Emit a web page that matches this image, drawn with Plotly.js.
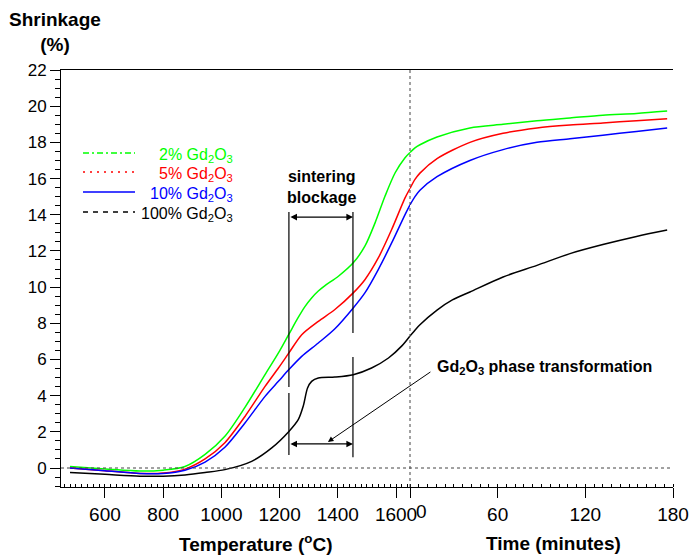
<!DOCTYPE html>
<html>
<head>
<meta charset="utf-8">
<script src="https://cdn.plot.ly/plotly-3.0.1.min.js"></script>
<style>html,body{margin:0;padding:0;background:#fff;}#chart{width:691px;height:555px;}</style>
</head>
<body>
<div id="chart"></div>
<script>
// ---- Data: temperature ramp (°C) ----
const g2_T  = [480, 600, 720, 800, 875, 944, 1012, 1081, 1150, 1196, 1232, 1264, 1287, 1310, 1333, 1356, 1402, 1453, 1493, 1528, 1562, 1597, 1631, 1648];
const g2_S  = [0.08, -0.05, -0.17, -0.12, 0.08, 0.75, 1.75, 3.35, 5.16, 6.36, 7.4, 8.32, 8.92, 9.4, 9.78, 10.08, 10.6, 11.34, 12.26, 13.55, 15.02, 16.32, 17.15, 17.44];
const r5_T  = [480, 600, 720, 800, 875, 944, 1012, 1081, 1150, 1196, 1232, 1276, 1333, 1390, 1453, 1493, 1539, 1585, 1631, 1648];
const r5_S  = [0.0, -0.15, -0.3, -0.28, -0.06, 0.5, 1.4, 2.85, 4.51, 5.53, 6.36, 7.37, 8.11, 8.76, 9.68, 10.41, 11.61, 13.18, 14.93, 15.45];
const b10_T = [480, 600, 720, 800, 875, 944, 1012, 1081, 1150, 1196, 1232, 1276, 1333, 1390, 1453, 1493, 1539, 1585, 1631, 1648];
const b10_S = [0.0, -0.15, -0.3, -0.3, -0.12, 0.33, 1.15, 2.49, 3.96, 4.79, 5.44, 6.17, 6.91, 7.7, 8.85, 9.68, 10.97, 12.44, 14.01, 14.55];
const k100_T = [480, 600, 720, 800, 875, 944, 1012, 1104, 1173, 1232, 1264, 1281, 1296, 1310, 1333, 1390, 1453, 1516, 1574, 1620, 1648];
const k100_S = [-0.25, -0.35, -0.45, -0.45, -0.38, -0.25, -0.09, 0.37, 1.11, 2.02, 2.67, 3.41, 4.42, 4.79, 4.98, 5.03, 5.16, 5.53, 6.08, 6.75, 7.3];

// ---- Data: isothermal hold (minutes) ----
const hold_t = [0, 3.4, 6.8, 18.5, 41, 63.7, 86.9, 109.5, 132, 155, 176];
const g2_H   = [17.44, 17.7, 17.87, 18.3, 18.8, 19.0, 19.2, 19.35, 19.5, 19.6, 19.73];
const r5_H   = [15.45, 15.95, 16.3, 17.1, 18.0, 18.5, 18.8, 18.96, 19.07, 19.2, 19.3];
const b10_H  = [14.55, 15.0, 15.35, 16.1, 17.0, 17.6, 18.0, 18.2, 18.4, 18.6, 18.8];
const k100_t = [0, 3.4, 6.8, 18.5, 29, 41, 63.7, 86.9, 109.5, 132, 155, 176];
const k100_H = [7.3, 7.62, 7.92, 8.73, 9.29, 9.73, 10.56, 11.2, 11.85, 12.35, 12.8, 13.15];

// ---- Labels ----
const tempTicks = [600, 800, 1000, 1200, 1400, 1600];
const timeTicks = [0, 60, 120, 180];
const timeTickText = ['', '60', '120', '180'];
const seriesNames = ['2% Gd<sub>2</sub>O<sub>3</sub>', '5% Gd<sub>2</sub>O<sub>3</sub>', '10% Gd<sub>2</sub>O<sub>3</sub>', '100% Gd<sub>2</sub>O<sub>3</sub>'];
const seriesColors = ['#00ff00', '#ff0000', '#0000ff', '#000000'];
const legendDash = ['6px,3px,2px,3px', '2px,5px', 'solid', '5px,5px'];

const FONT = '"Liberation Sans", Arial, Helvetica, sans-serif';
const dT = 349 / 612;

const tempSets = [[g2_T, g2_S], [r5_T, r5_S], [b10_T, b10_S], [k100_T, k100_S]];
const holdSets = [[hold_t, g2_H], [hold_t, r5_H], [hold_t, b10_H], [k100_t, k100_H]];

const traces = [];
tempSets.forEach((s, i) => traces.push({
  x: s[0], y: s[1], xaxis: 'x', yaxis: 'y', mode: 'lines', name: seriesNames[i],
  line: {color: seriesColors[i], width: 1.5, shape: 'spline', smoothing: 0.8}, hoverinfo: 'skip'
}));
holdSets.forEach((s, i) => traces.push({
  x: s[0], y: s[1], xaxis: 'x2', yaxis: 'y', mode: 'lines', name: seriesNames[i],
  line: {color: seriesColors[i], width: 1.5, shape: 'spline', smoothing: 0.8}, hoverinfo: 'skip'
}));

const shapes = [
  {type: 'line', xref: 'paper', yref: 'y', x0: 0, x1: 1, y0: 0, y1: 0, line: {color: '#444', width: 1, dash: 'dot'}},
  {type: 'line', xref: 'paper', yref: 'paper', x0: dT, x1: dT, y0: 0, y1: 1, line: {color: '#444', width: 1, dash: 'dot'}},
  // sintering blockage markers
  {type: 'line', xref: 'x', yref: 'y', x0: 1232, x1: 1232, y0: 14.15, y1: 4.48, line: {color: 'black', width: 1.2}},
  {type: 'line', xref: 'x', yref: 'y', x0: 1232, x1: 1232, y0: 4.15, y1: 0.72, line: {color: 'black', width: 1.2}},
  {type: 'line', xref: 'x', yref: 'y', x0: 1452, x1: 1452, y0: 14.15, y1: 7.46, line: {color: 'black', width: 1.2}},
  {type: 'line', xref: 'x', yref: 'y', x0: 1452, x1: 1452, y0: 6.14, y1: 0.6, line: {color: 'black', width: 1.2}}
];
const legY = [153, 172, 192, 212].map(p => (487 - p) / 417);
legY.forEach((y, i) => shapes.push({
  type: 'line', xref: 'paper', yref: 'paper', x0: 22 / 612, x1: 74 / 612, y0: y, y1: y,
  line: {color: seriesColors[i], width: 1.3, dash: legendDash[i]}
}));

const annotations = [
  {xref: 'paper', yref: 'paper', x: -6 / 612, y: 1, yshift: 38, xanchor: 'center', yanchor: 'middle', showarrow: false,
   text: '<b>Shrinkage</b><br><b>(%)</b>', font: {family: FONT, size: 19, color: 'black'}},
  {xref: 'paper', yref: 'paper', x: 194 / 612, y: 0, yshift: -56, xanchor: 'center', yanchor: 'middle', showarrow: false,
   text: '<b>Temperature (<sup>o</sup>C)</b>', font: {family: FONT, size: 19, color: 'black'}},
  {xref: 'paper', yref: 'paper', x: 492 / 612, y: 0, yshift: -56, xanchor: 'center', yanchor: 'middle', showarrow: false,
   text: '<b>Time (minutes)</b>', font: {family: FONT, size: 19, color: 'black'}},
  {xref: 'x2', yref: 'paper', x: 0, y: 0, xshift: 11, yshift: -24, xanchor: 'center', yanchor: 'middle', showarrow: false,
   text: '0', font: {family: FONT, size: 19, color: 'black'}},
  {xref: 'paper', yref: 'paper', x: 260 / 612, y: (487 - 186.5) / 417, xanchor: 'center', yanchor: 'middle', showarrow: false,
   text: '<b>sintering</b><br><b>blockage</b>', font: {family: FONT, size: 16, color: 'black'}},
  {xref: 'x', yref: 'y', x: 1452, y: 13.87, axref: 'x', ayref: 'y', ax: 1232, ay: 13.87, text: '', showarrow: true,
   arrowside: 'end+start', arrowhead: 2, arrowsize: 1.1, arrowwidth: 1.2, arrowcolor: 'black', standoff: 0, startstandoff: 0},
  {xref: 'x', yref: 'y', x: 1452, y: 1.33, axref: 'x', ayref: 'y', ax: 1232, ay: 1.33, text: '', showarrow: true,
   arrowside: 'end+start', arrowhead: 2, arrowsize: 1.1, arrowwidth: 1.2, arrowcolor: 'black', standoff: 0, startstandoff: 0},
  {xref: 'x', yref: 'y', x: 1366, y: 1.44, ax: 104, ay: -71, text: '', showarrow: true,
   arrowhead: 2, arrowsize: 1.1, arrowwidth: 1, arrowcolor: 'black', standoff: 0},
  {xref: 'paper', yref: 'paper', x: 374 / 612, y: (487 - 367) / 417, xanchor: 'left', yanchor: 'middle', showarrow: false,
   text: '<b>Gd<sub>2</sub>O<sub>3</sub> phase transformation</b>', font: {family: FONT, size: 16, color: 'black'}}
];
legY.forEach((y, i) => annotations.push({
  xref: 'paper', yref: 'paper', x: 174 / 612, y: y, yshift: -2, xanchor: 'right', yanchor: 'middle', showarrow: false,
  text: seriesNames[i], font: {family: FONT, size: 16, color: seriesColors[i]}
}));

const commonX = {
  anchor: 'y', ticks: 'outside', ticklen: 10, tickwidth: 1, tickcolor: 'black',
  tickfont: {family: FONT, size: 19, color: 'black'}, showline: true, linecolor: 'black', linewidth: 1,
  mirror: true, showgrid: false, zeroline: false,
  minor: {ticks: 'inside', ticklen: 3, tickcolor: 'black', showgrid: false}
};

const layout = {
  width: 691, height: 555,
  margin: {l: 61, r: 18, t: 70, b: 68},
  paper_bgcolor: 'white', plot_bgcolor: 'white',
  showlegend: false,
  font: {family: FONT, color: 'black'},
  xaxis: Object.assign({}, commonX, {domain: [0, dT], range: [449, 1648], tickvals: tempTicks,
    minor: Object.assign({}, commonX.minor, {dtick: 20})}),
  xaxis2: Object.assign({}, commonX, {domain: [dT, 1], range: [0, 180], tickvals: timeTicks, ticktext: timeTickText,
    minor: Object.assign({}, commonX.minor, {dtick: 6})}),
  yaxis: {range: [-1.05, 22], tick0: 0, dtick: 2, ticks: 'outside', ticklen: 10, tickwidth: 1, tickcolor: 'black',
    tickfont: {family: FONT, size: 17, color: 'black'}, showline: true, linecolor: 'black', linewidth: 1,
    showgrid: false, zeroline: false, anchor: 'x',
    minor: {dtick: 0.5, ticks: 'outside', ticklen: 5, tickcolor: 'black', showgrid: false}},
  yaxis2: {range: [-1.05, 22], overlaying: 'y', side: 'right', anchor: 'x2', showticklabels: false,
    ticks: 'outside', ticklen: 3, dtick: 0.5, tickcolor: 'black', showline: true, linecolor: 'black', linewidth: 1,
    showgrid: false, zeroline: false},
  shapes: shapes,
  annotations: annotations
};

Plotly.newPlot('chart', traces, layout, {staticPlot: true, displayModeBar: false});
</script>
</body>
</html>
